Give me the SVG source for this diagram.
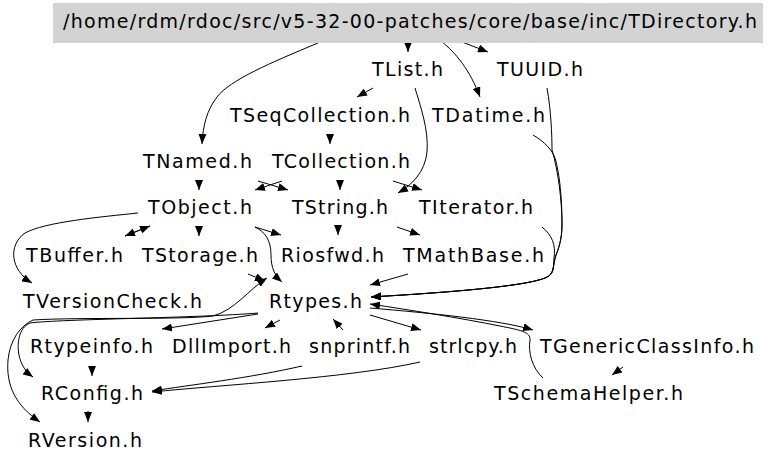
<svg xmlns="http://www.w3.org/2000/svg" width="768" height="464" viewBox="0 0 768 464">
<defs>
<style>
.e{fill:none;stroke:#000;stroke-width:1;marker-end:url(#ah)}
text{font-family:"DejaVu Sans","Liberation Sans",sans-serif;font-size:19px;fill:#000;text-anchor:middle;lengthAdjust:spacing}
</style>
<marker id="ah" viewBox="0 0 10 8" refX="10" refY="4" markerWidth="10" markerHeight="8" orient="auto" markerUnits="userSpaceOnUse">
<path d="M0,0 L10,4 L0,8 z" fill="#000"/>
</marker>
</defs>
<rect width="768" height="464" fill="#fff"/>
<g id="connectors">
<path class="e" d="M408,43 L408,52"/>
<path class="e" d="M318,43 C270,63 230,80 217,97 C207,110 203,125 202,144"/>
<path class="e" d="M442,42 C455,52 470,70 480,97"/>
<path class="e" d="M462,42 L488,52"/>
<path class="e" d="M373,88 L357,97"/>
<path class="e" d="M415,88 C420,105 429,130 427,152 C425,172 412,185 398,193"/>
<path class="e" d="M330,134 L330,144"/>
<path class="e" d="M199,180 L199,190"/>
<path class="e" d="M258,181 L288,190"/>
<path class="e" d="M282,181 L255,190"/>
<path class="e" d="M340,180 L340,190"/>
<path class="e" d="M393,181 L422,190"/>
<path class="e" d="M138,213 C100,217 45,222 25,233 C8,245 10,270 32,283"/>
<path class="e" d="M150,226 L125,236"/>
<path class="e" d="M125,236 L150,226"/>
<path class="e" d="M199,226 L199,236"/>
<path class="e" d="M255,227 L281,235"/>
<path class="e" d="M255,227 C265,232 271,240 271,255 C271,268 275,276 282,282"/>
<path class="e" d="M248,274 L265,281"/>
<path class="e" d="M33,320 C80,317 180,320 213,316 C235,310 248,290 267,278"/>
<path class="e" d="M33,320 C20,326 10,340 8,360 C6,385 15,405 40,422"/>
<path class="e" d="M258,313 C200,318 60,319 30,323 C18,328 17,345 19,355 C21,365 26,372 33,377"/>
<path class="e" d="M258,314 L162,329"/>
<path class="e" d="M280,320 L265,328"/>
<path class="e" d="M343,330 L333,319"/>
<path class="e" d="M370,315 L421,330"/>
<path class="e" d="M370,308 C430,313 500,320 533,330"/>
<path class="e" d="M543,378 C532,368 528,352 530,340 C531,332 520,330 500,326 C460,318 410,310 370,304"/>
<path class="e" d="M623,367 L612,375"/>
<path class="e" d="M92,366 L92,376"/>
<path class="e" d="M302,366 C250,378 190,385 152,391"/>
<path class="e" d="M420,362 C350,378 220,385 152,392"/>
<path class="e" d="M88,411 L88,422"/>
<path class="e" d="M338,225 L338,235"/>
<path class="e" d="M397,227 L420,235"/>
<path class="e" d="M408,274 L370,285"/>
<path class="e" d="M542,227 C552,235 556,245 554,258 C553,268 555,274 545,278 C520,288 420,294 371,297"/>
<path class="e" d="M533,135 C545,142 552,150 555,158 C560,175 562,200 562,225 C562,240 558,250 556,255 C552,268 555,274 545,278 C520,288 420,294 371,297"/>
<path class="e" d="M547,88 C551,110 552,135 552,150 C558,170 562,200 562,225 C562,240 558,250 556,255 C552,268 555,274 545,278 C520,288 420,294 371,297"/>
</g>
<g id="n-root"><rect x="53" y="3" width="710" height="40" fill="#d3d3d3"/><text x="410" y="28" textLength="694">/home/rdm/rdoc/src/v5-32-00-patches/core/base/inc/TDirectory.h</text></g>
<g id="n-TList"><text x="407.5" y="76" textLength="71">TList.h</text></g>
<g id="n-TUUID"><text x="540" y="76" textLength="86">TUUID.h</text></g>
<g id="n-TSeqCollection"><text x="320" y="122" textLength="180">TSeqCollection.h</text></g>
<g id="n-TDatime"><text x="488.5" y="122" textLength="113">TDatime.h</text></g>
<g id="n-TNamed"><text x="197.5" y="168" textLength="109">TNamed.h</text></g>
<g id="n-TCollection"><text x="341" y="168" textLength="138">TCollection.h</text></g>
<g id="n-TObject"><text x="200" y="214" textLength="104">TObject.h</text></g>
<g id="n-TString"><text x="340" y="214" textLength="96">TString.h</text></g>
<g id="n-TIterator"><text x="476" y="214" textLength="114">TIterator.h</text></g>
<g id="n-TBuffer"><text x="74.5" y="262" textLength="97">TBuffer.h</text></g>
<g id="n-TStorage"><text x="200" y="262" textLength="116">TStorage.h</text></g>
<g id="n-Riosfwd"><text x="332.5" y="262" textLength="103">Riosfwd.h</text></g>
<g id="n-TMathBase"><text x="473.5" y="262" textLength="141">TMathBase.h</text></g>
<g id="n-TVersionCheck"><text x="112.5" y="308" textLength="179">TVersionCheck.h</text></g>
<g id="n-Rtypes"><text x="315.5" y="308" textLength="93">Rtypes.h</text></g>
<g id="n-Rtypeinfo"><text x="91.5" y="353" textLength="123">Rtypeinfo.h</text></g>
<g id="n-DllImport"><text x="231.5" y="353" textLength="119">DllImport.h</text></g>
<g id="n-snprintf"><text x="359.5" y="353" textLength="101">snprintf.h</text></g>
<g id="n-strlcpy"><text x="473" y="353" textLength="88">strlcpy.h</text></g>
<g id="n-TGenericClassInfo"><text x="647" y="353" textLength="214">TGenericClassInfo.h</text></g>
<g id="n-RConfig"><text x="92" y="400" textLength="102">RConfig.h</text></g>
<g id="n-TSchemaHelper"><text x="588.5" y="400" textLength="189">TSchemaHelper.h</text></g>
<g id="n-RVersion"><text x="85" y="447" textLength="114">RVersion.h</text></g>
</svg>
